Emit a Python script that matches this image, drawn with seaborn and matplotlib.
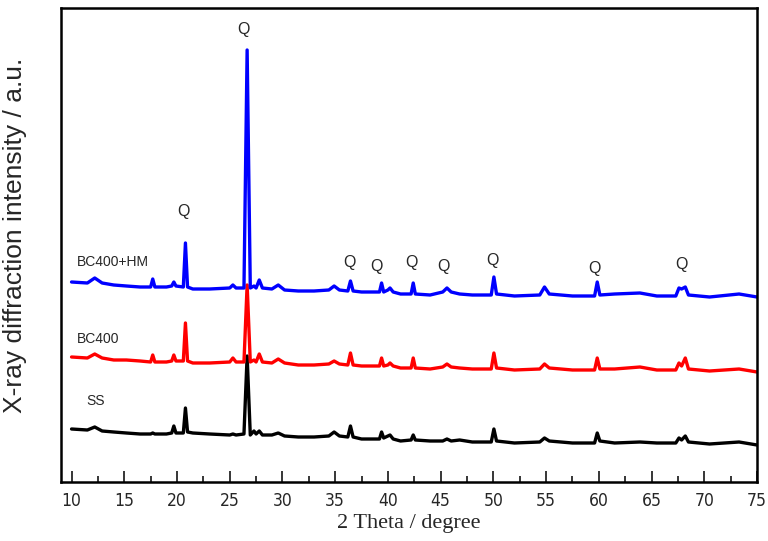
import numpy as np
import pandas as pd
import seaborn as sns
import matplotlib.pyplot as plt
from matplotlib.ticker import MultipleLocator

# key points (2 theta in degree, intensity in a.u.)
two_theta = [10.0, 11.5, 12.2, 12.9, 14.0, 15.2, 16.5, 17.5, 17.7, 17.9,
             19.0, 19.5, 19.7, 19.9, 20.6, 20.8, 21.0, 21.5, 23.1, 25.0,
             25.3, 25.6, 26.35, 26.65, 26.95, 27.3, 27.5, 27.8, 28.1, 29.0,
             29.6, 30.2, 31.5, 33.0, 34.4, 34.9, 35.4, 36.2, 36.45, 36.7,
             37.5, 39.2, 39.4, 39.6, 40.0, 40.2, 40.5, 41.2, 42.2, 42.4,
             42.6, 44.0, 45.2, 45.6, 46.0, 46.8, 48.0, 49.8, 50.05, 50.3,
             52.0, 54.4, 54.85, 55.3, 57.5, 59.6, 59.85, 60.1, 61.5, 63.9,
             65.5, 67.3, 67.6, 67.85, 68.2, 68.5, 70.5, 73.3, 75.0]

ss = [53, 52, 55, 51, 50, 49, 48, 48, 49, 48,
      48, 49, 56, 49, 49, 74, 50, 49, 48, 47,
      48, 47, 48, 126, 47, 51, 48, 51, 47, 47,
      49, 46, 45, 45, 46, 50, 46, 45, 56, 45,
      43, 43, 50, 44, 46, 47, 43, 41, 42, 47,
      42, 41, 41, 43, 41, 42, 40, 40, 53, 41,
      39, 40, 44, 41, 39, 39, 49, 41, 39, 40,
      39, 39, 44, 42, 46, 40, 38, 40, 37]

bc400 = [50, 49, 53, 49, 47, 47, 46, 45, 52, 45,
         45, 46, 52, 46, 46, 84, 46, 44, 44, 45,
         49, 45, 45, 122, 45, 47, 45, 53, 45, 44,
         48, 44, 42, 42, 43, 46, 43, 42, 54, 42,
         41, 41, 49, 41, 42, 44, 41, 39, 39, 49,
         39, 38, 40, 43, 40, 39, 38, 38, 54, 39,
         37, 38, 43, 39, 37, 37, 49, 38, 38, 40,
         37, 37, 44, 41, 49, 38, 36, 38, 35]

bc400_hm = [50, 49, 54, 49, 47, 46, 45, 45, 53, 45,
            45, 46, 50, 46, 45, 89, 45, 43, 43, 44,
            47, 44, 44, 282, 44, 46, 44, 52, 44, 43,
            47, 42, 41, 41, 42, 46, 42, 41, 51, 41,
            40, 40, 49, 40, 42, 44, 40, 38, 38, 49,
            38, 37, 40, 44, 40, 38, 37, 37, 55, 38,
            36, 37, 45, 38, 36, 36, 50, 37, 38, 39,
            36, 36, 44, 43, 45, 37, 35, 38, 35]

samples = ["SS", "BC400", "BC400+HM"]
offsets = [0, 75, 150]
colors = ["#000000", "#ff0000", "#0000ff"]

# Q (quartz) marks
q_theta = [26.3, 20.57, 36.38, 38.95, 42.19, 45.24, 49.9, 59.62, 67.81]
q_height = [453, 271, 220, 215, 219, 215, 221, 214, 217]

frames = []
for name, vals, off in zip(samples, [ss, bc400, bc400_hm], offsets):
    frames.append(pd.DataFrame({"two_theta": two_theta,
                                "intensity": np.array(vals) + off,
                                "sample": name}))
df = pd.concat(frames, ignore_index=True)

sns.set_style("white")
plt.rcParams["font.family"] = ["Liberation Sans", "DejaVu Sans"]

fig = plt.figure(figsize=(7.68, 5.41), dpi=100)
ax = fig.add_axes([61 / 768, 59 / 541, 696 / 768, 474 / 541])

sns.lineplot(data=df, x="two_theta", y="intensity", hue="sample",
             hue_order=samples, palette=colors, legend=False,
             linewidth=2.4, sort=False, estimator=None, ax=ax)

for t, h in zip(q_theta, q_height):
    ax.text(t, h, "Q", fontsize=11.5, ha="center", va="center")

ax.text(10.48, 220, "BC400+HM", fontsize=10, ha="left", va="center")
ax.text(10.48, 143, "BC400", fontsize=10, ha="left", va="center")
ax.text(11.43, 81, "SS", fontsize=10, ha="left", va="center")

ax.set_xlim(9, 75)
ax.set_ylim(0, 474)
ax.set_yticks([])
ax.xaxis.set_major_locator(MultipleLocator(5))
ax.xaxis.set_minor_locator(MultipleLocator(2.5))
ax.tick_params(axis="x", which="major", direction="in", length=8, width=1.3,
               bottom=True, top=False, labelsize=12.5, pad=7)
ax.tick_params(axis="x", which="minor", direction="in", length=4, width=1.3,
               bottom=True, top=False)
for lab in ax.get_xticklabels():
    lab.set_family(["DejaVu Sans", "Liberation Sans"])
    lab.set_stretch("condensed")

for s in ax.spines.values():
    s.set_linewidth(1.8)
    s.set_color("black")

ax.set_xlabel("2 Theta / degree", fontsize=16,
              family=["Liberation Serif", "DejaVu Serif"], labelpad=3)
ax.set_ylabel("X-ray diffraction intensity / a.u.", fontsize=19, va="center")
ax.yaxis.set_label_coords(-0.066, 0.52)

fig.savefig("out.png", dpi=100)
